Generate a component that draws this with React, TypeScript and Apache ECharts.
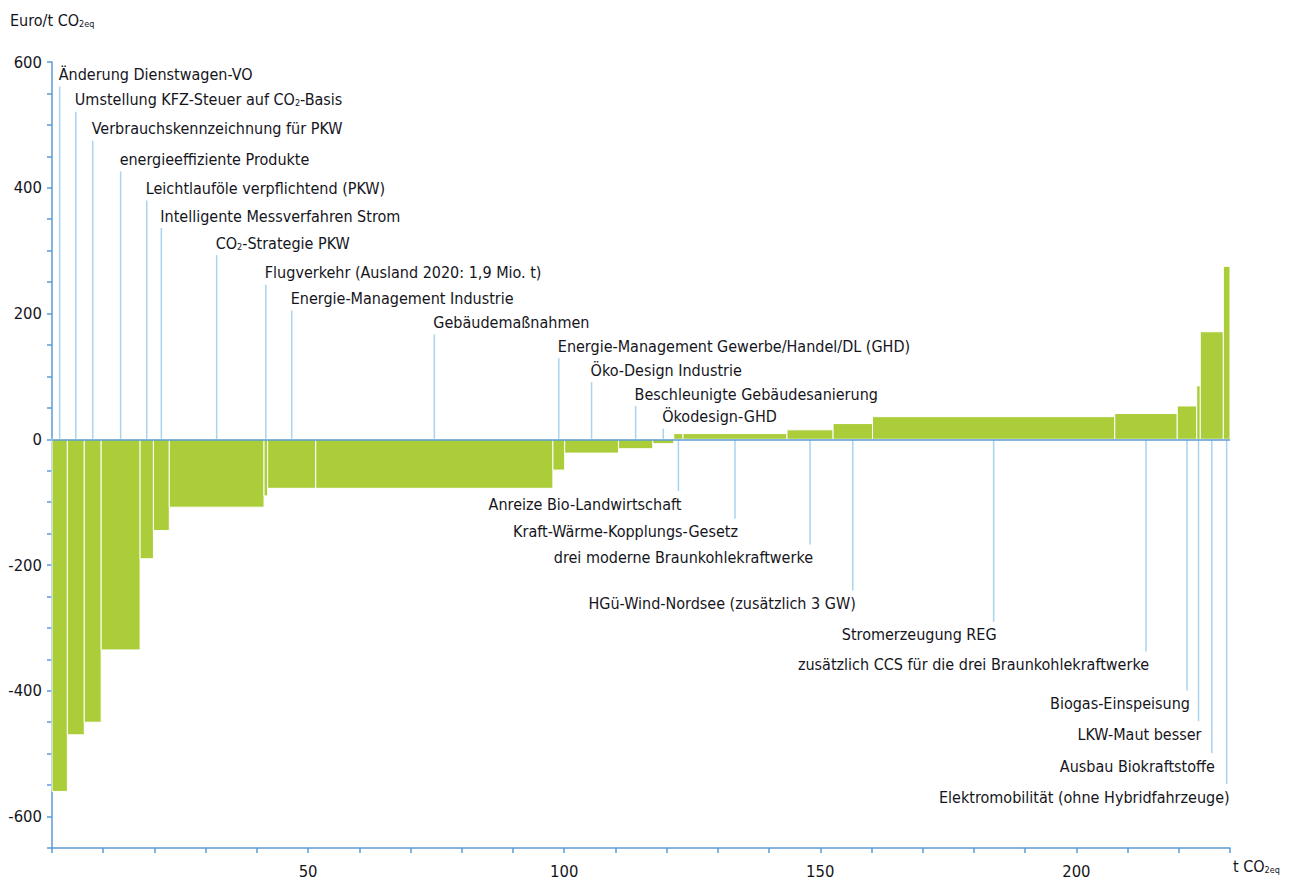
import React, { useEffect, useRef } from "react";
import * as echarts from "echarts";

// Measures (in order of the curve)
const measures = [
  "Änderung Dienstwagen-VO",
  "Umstellung KFZ-Steuer auf CO2-Basis",
  "Verbrauchskennzeichnung für PKW",
  "energieeffiziente Produkte",
  "Leichtlauföle verpflichtend (PKW)",
  "Intelligente Messverfahren Strom",
  "CO2-Strategie PKW",
  "Flugverkehr (Ausland 2020: 1,9 Mio. t)",
  "Energie-Management Industrie",
  "Gebäudemaßnahmen",
  "Energie-Management Gewerbe/Handel/DL (GHD)",
  "Öko-Design Industrie",
  "Beschleunigte Gebäudesanierung",
  "Ökodesign-GHD",
  "Anreize Bio-Landwirtschaft",
  "Kraft-Wärme-Kopplungs-Gesetz",
  "drei moderne Braunkohlekraftwerke",
  "HGü-Wind-Nordsee (zusätzlich 3 GW)",
  "Stromerzeugung REG",
  "zusätzlich CCS für die drei Braunkohlekraftwerke",
  "Biogas-Einspeisung",
  "LKW-Maut besser",
  "Ausbau Biokraftstoffe",
  "Elektromobilität (ohne Hybridfahrzeuge)",
];

// Abatement potential (t CO2eq) = bar width
const potentials = [
  3.0, 3.3, 3.3, 7.6, 2.6, 3.1, 18.5, 0.7, 9.4, 46.3, 2.3, 10.5, 6.7, 4.1,
  1.8, 20.3, 9.0, 7.7, 47.3, 12.2, 3.8, 0.7, 4.5, 1.3,
];

// Abatement cost (Euro/t CO2eq) = bar height
const costs = [
  -560, -470, -450, -335, -190, -145, -108, -90, -78, -78, -49, -22, -15, -7,
  9, 9, 15, 25, 36, 41, 53, 85, 171, 275,
];

// Layout: vertical level (in axis units) at which each label is placed
const labelLevels = [
  580, 540, 494, 445, 399, 355, 312, 265, 224, 186, 148, 110, 72, 36,
  -103, -147, -188, -261, -311, -358, -420, -469, -520, -569,
];

const yTickLabels = [600, 400, 200, 0, -200, -400, -600];
const xTickLabels = [50, 100, 150, 200];

const FONT =
  "'Liberation Sans Narrow', 'DejaVu Sans Condensed', 'Arial Narrow', sans-serif";
const TEXT = "#15151c";
const AXIS = "#5b9bd5";
const LEADER = "#a9d3ee";
const BAR = "#abcd3a";
const FS = 16;

const richStyles = {
  s: {
    fontSize: 9,
    fontFamily: FONT,
    lineHeight: 9,
    verticalAlign: "bottom",
    fill: TEXT,
  },
};

function markup(t: string) {
  return t.replace(/CO2/g, "CO{s|2}");
}

export default function App() {
  const ref = useRef<HTMLDivElement>(null);
  useEffect(() => {
    const chart = echarts.init(ref.current!, null, { renderer: "svg" });
    let acc = 0;
    const data = measures.map((_, i) => {
      const s = acc;
      acc += potentials[i];
      return [s, acc, costs[i], labelLevels[i], i];
    });

    chart.setOption({
      animation: false,
      backgroundColor: "#fff",
      grid: { left: 52, right: 59, top: 62, bottom: 33 },
      xAxis: {
        type: "value",
        min: 0,
        max: 230,
        interval: 10,
        axisLine: { show: true, onZero: false, lineStyle: { color: AXIS, width: 1.5 } },
        axisTick: { show: true, length: 5, lineStyle: { color: AXIS, width: 1.5 } },
        splitLine: { show: false },
        axisLabel: {
          formatter: (v: number) => (xTickLabels.includes(v) ? String(v) : ""),
          color: TEXT,
          fontSize: 16.5,
          fontFamily: FONT,
          margin: 15,
        },
      },
      yAxis: {
        type: "value",
        min: -650,
        max: 600,
        interval: 50,
        axisLine: { show: true, onZero: false, lineStyle: { color: AXIS, width: 1.5 } },
        axisTick: { show: true, length: 5, lineStyle: { color: AXIS, width: 1.5 } },
        splitLine: { show: false },
        axisLabel: {
          formatter: (v: number) => (yTickLabels.includes(v) ? String(v) : ""),
          color: TEXT,
          fontSize: 16.5,
          fontFamily: FONT,
          margin: 10,
        },
      },
      graphic: [
        {
          type: "text",
          left: 10,
          top: 12,
          style: {
            text: "Euro/t CO{s|2eq}",
            font: `${FS}px ${FONT}`,
            fill: TEXT,
            rich: richStyles,
          },
        },
        {
          type: "text",
          left: 1233,
          top: 858,
          style: {
            text: "t CO{s|2eq}",
            font: `${FS}px ${FONT}`,
            fill: TEXT,
            rich: richStyles,
          },
        },
      ],
      series: [
        {
          type: "custom",
          name: "annotations",
          clip: false,
          z: 1,
          silent: true,
          data,
          encode: { x: [0, 1], y: 2 },
          renderItem: (params: any, api: any) => {
            const s = api.value(0);
            const e = api.value(1);
            const lvl = api.value(3);
            const idx = api.value(4);
            const mid = (s + e) / 2;
            const base = api.coord([mid, 0]);
            const lab = api.coord([mid, lvl]);
            const top = lvl > 0;
            const lineEnd = top ? lab[1] + 12 : lab[1] - 13;
            return {
              type: "group",
              children: [
                {
                  type: "line",
                  shape: { x1: base[0], y1: base[1], x2: base[0], y2: lineEnd },
                  style: { stroke: LEADER, lineWidth: 1.5 },
                },
                {
                  type: "text",
                  x: top ? base[0] - 1 : base[0] + 3,
                  y: lab[1],
                  style: {
                    text: markup(measures[idx]),
                    font: `${FS}px ${FONT}`,
                    fill: TEXT,
                    align: top ? "left" : "right",
                    verticalAlign: "middle",
                    rich: richStyles,
                  },
                },
              ],
            };
          },
        },
        {
          type: "custom",
          name: "Vermeidungskosten",
          clip: false,
          z: 2,
          data,
          encode: { x: [0, 1], y: 2 },
          renderItem: (params: any, api: any) => {
            const a = api.coord([api.value(0), 0]);
            const b = api.coord([api.value(1), api.value(2)]);
            return {
              type: "rect",
              shape: {
                x: a[0],
                y: Math.min(a[1], b[1]),
                width: b[0] - a[0],
                height: Math.abs(b[1] - a[1]),
              },
              style: { fill: BAR, stroke: "#ffffff", lineWidth: 1 },
            };
          },
          markLine: {
            silent: true,
            symbol: "none",
            label: { show: false },
            lineStyle: { color: AXIS, width: 1.5, type: "solid" },
            data: [{ yAxis: 0 }],
          },
        },
      ],
    });
    return () => chart.dispose();
  }, []);
  return (
    <div
      ref={ref}
      style={{ position: "fixed", left: 0, top: 0, width: 1289, height: 881, background: "#fff" }}
    />
  );
}
